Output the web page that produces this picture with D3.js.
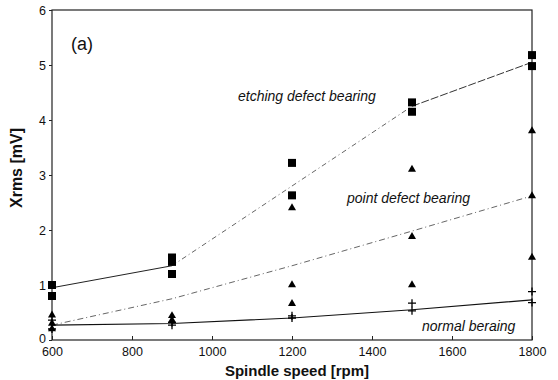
<!DOCTYPE html>
<html><head><meta charset="utf-8">
<script src="https://cdn.jsdelivr.net/npm/d3@7"></script>
<style>body{margin:0;background:#fff}svg{display:block}</style>
</head><body>
<svg id="c" width="558" height="380"></svg>
<script>
const speeds = [600, 900, 1200, 1500, 1800];
const xTicks = [600, 800, 1000, 1200, 1400, 1600, 1800];
const yTicks = [0, 1, 2, 3, 4, 5, 6];
// measured points
const etchingPts = [[600,1.0],[600,0.8],[900,1.5],[900,1.42],[900,1.2],[1200,3.22],[1200,2.63],[1500,4.32],[1500,4.15],[1800,5.18],[1800,4.98]];
const pointPts = [[600,0.45],[600,0.3],[600,0.2],[900,0.44],[900,0.36],[1200,2.4],[1200,1.0],[1200,0.66],[1500,3.1],[1500,1.88],[1500,1.0],[1800,3.8],[1800,2.62],[1800,1.5]];
const normalPts = [[600,0.36],[600,0.2],[900,0.32],[900,0.27],[1200,0.44],[1200,0.4],[1500,0.67],[1500,0.53],[1800,0.88],[1800,0.68]];
// fitted lines
const etchingLine = [0.95, 1.35, 2.8, 4.25, 5.05];
const pointLine = [0.27, 0.75, 1.35, 1.98, 2.62];
const normalLine = [0.27, 0.3, 0.4, 0.55, 0.73];

const svg = d3.select("#c");
const L = 52, R = 532, T = 10, B = 340;
const x = d3.scaleLinear().domain([600, 1800]).range([L, R]);
const y = d3.scaleLinear().domain([0, 6]).range([B, T]);
const font = "Liberation Sans, Arial, sans-serif";

// frame
svg.append("rect").attr("x", L).attr("y", T).attr("width", R - L).attr("height", B - T)
  .attr("fill", "none").attr("stroke", "#222").attr("stroke-width", 1.2);

const xa = svg.append("g").attr("transform", `translate(0,${B})`)
  .call(d3.axisBottom(x).tickValues(xTicks).tickSize(-4).tickPadding(7).tickFormat(d3.format("d")));
const ya = svg.append("g").attr("transform", `translate(${L},0)`)
  .call(d3.axisLeft(y).tickValues(yTicks).tickSize(3).tickPadding(3).tickFormat(d3.format("d")));
[xa, ya].forEach(a => {
  a.select(".domain").remove();
  a.selectAll("line").attr("stroke", "#222");
  a.selectAll("text").attr("font-family", font).attr("font-size", 12.5).attr("fill", "#111");
});
ya.selectAll(".tick text").filter(d => d === 0).attr("y", -2);

// lines
const line = d3.line().x((d, i) => x(speeds[i])).y(d => y(d));
const seg = (arr, i0, i1) => arr.map((v, i) => [speeds[i], v]).slice(i0, i1 + 1);
const line2 = d3.line().x(d => x(d[0])).y(d => y(d[1]));
svg.append("path").attr("d", line2(seg(etchingLine, 0, 1))).attr("fill", "none").attr("stroke", "#222").attr("stroke-width", 1);
svg.append("path").attr("d", line2(seg(etchingLine, 1, 3))).attr("fill", "none").attr("stroke", "#555").attr("stroke-width", 0.9).attr("stroke-dasharray", "5,3,1,3");
svg.append("path").attr("d", line2(seg(etchingLine, 3, 4))).attr("fill", "none").attr("stroke", "#333").attr("stroke-width", 1).attr("stroke-dasharray", "8,2");
svg.append("path").attr("d", line(pointLine)).attr("fill", "none").attr("stroke", "#555").attr("stroke-width", 0.9).attr("stroke-dasharray", "6,3,1,3");
svg.append("path").attr("d", line(normalLine)).attr("fill", "none").attr("stroke", "#111").attr("stroke-width", 1.1);

// markers
svg.append("g").selectAll("rect").data(etchingPts).join("rect")
  .attr("x", d => x(d[0]) - 4).attr("y", d => y(d[1]) - 4).attr("width", 8).attr("height", 8).attr("fill", "#000");
const tri = d3.symbol().type(d3.symbolTriangle).size(28);
svg.append("g").selectAll("path").data(pointPts).join("path")
  .attr("transform", d => `translate(${x(d[0])},${y(d[1])})`).attr("d", tri).attr("fill", "#000");
svg.append("g").selectAll("path").data(normalPts).join("path")
  .attr("transform", d => `translate(${x(d[0])},${y(d[1])})`)
  .attr("d", "M-4,0H4M0,-4V4").attr("stroke", "#000").attr("stroke-width", 1.3);

// annotations
svg.append("text").attr("x", 71).attr("y", 50).text("(a)").attr("font-family", font).attr("font-size", 18).attr("fill", "#111");
const ann = [["etching defect bearing", 238, 101], ["point defect bearing", 347, 203], ["normal beraing", 422, 331]];
svg.append("g").selectAll("text").data(ann).join("text")
  .attr("x", d => d[1]).attr("y", d => d[2]).text(d => d[0])
  .attr("font-family", font).attr("font-style", "italic").attr("font-size", 14).attr("fill", "#111");

// axis titles
svg.append("text").attr("x", 297).attr("y", 375.5).attr("text-anchor", "middle").text("Spindle speed [rpm]")
  .attr("font-family", font).attr("font-weight", "bold").attr("font-size", 15).attr("fill", "#111");
svg.append("text").attr("transform", "translate(22,168) rotate(-90)").attr("text-anchor", "middle").text("Xrms [mV]")
  .attr("font-family", font).attr("font-weight", "bold").attr("font-size", 16).attr("fill", "#111");
</script>
</body></html>
